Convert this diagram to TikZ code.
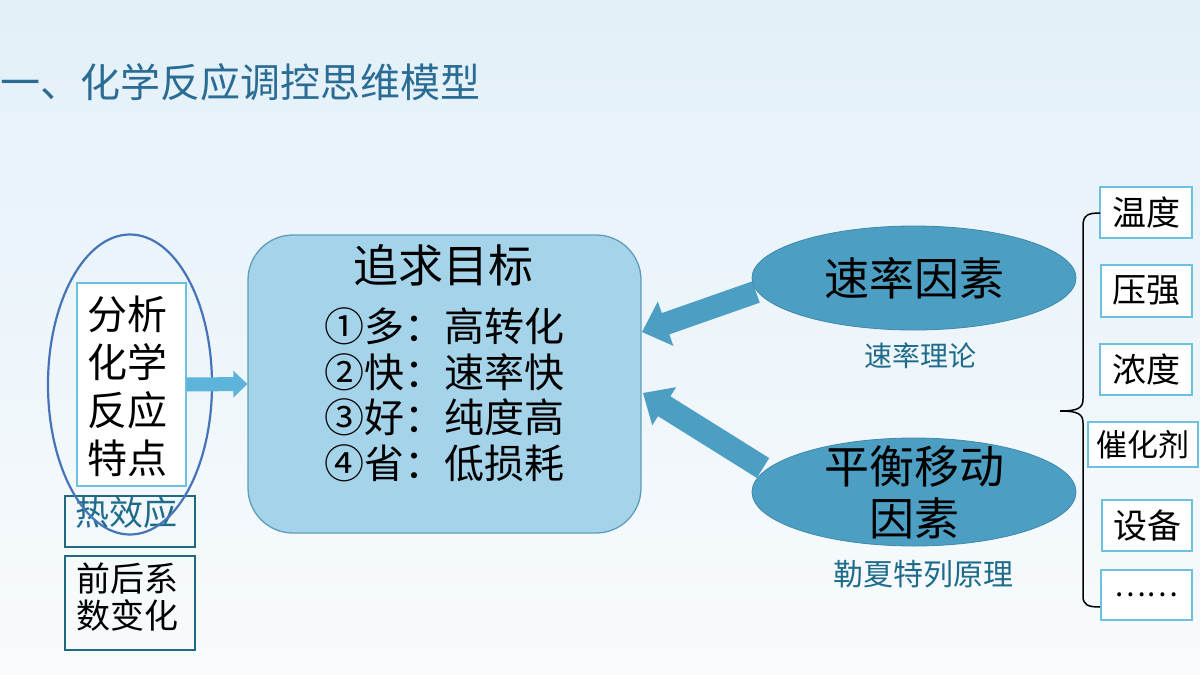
\documentclass[tikz,border=0pt]{standalone}
\usepackage{fontspec}
\setmainfont{Noto Sans CJK SC}
\usetikzlibrary{calc,shapes.geometric}
\definecolor{bgtop}{HTML}{E3F0F8}
\definecolor{bgbot}{HTML}{F8FBFD}
\definecolor{titlec}{HTML}{2A6C94}
\definecolor{tealc}{HTML}{1E6C8A}
\definecolor{goalfill}{HTML}{A5D4EA}
\definecolor{goaldraw}{HTML}{5E9DBB}
\definecolor{ellfill}{HTML}{4C9FC2}
\definecolor{elldraw}{HTML}{3F8AAA}
\definecolor{lightbox}{HTML}{6CC0E0}
\definecolor{ringc}{HTML}{4674B8}
\definecolor{darkbox}{HTML}{1F6A80}
\definecolor{smallarr}{HTML}{5DB4DA}
\newcommand{\fs}[2]{\fontsize{#1}{#2}\selectfont}
\newcommand{\blockarr}[6]{%
  \coordinate (hb) at ($(#2)!#5!(#1)$);
  \fill[#6] ($(#1)!#3!90:(#2)$) -- ($(hb)!#3!90:(#2)$) -- ($(hb)!#4!90:(#2)$)
     -- (#2) -- ($(hb)!#4!-90:(#2)$) -- ($(hb)!#3!-90:(#2)$) -- ($(#1)!#3!-90:(#2)$) -- cycle;}
\tikzset{
  sidebox/.style={draw=lightbox, line width=1.4pt, fill=white, inner sep=0pt},
  darkframe/.style={draw=darkbox, line width=1.4pt},
  ellnode/.style={ellipse, fill=ellfill, draw=elldraw, line width=0.8pt, inner sep=0pt},
  blk/.style={text=black, align=center, inner sep=0pt},
}
\begin{document}
\begin{tikzpicture}[x=1pt,y=-1pt]
\shade[top color=bgtop, bottom color=bgbot] (0,0) rectangle (1200,675);
\useasboundingbox (0,0) rectangle (1200,675);

% title
\node[anchor=west, text=titlec, inner sep=0pt, font=\fs{40}{44}] (title) at (0,82) {一、化学反应调控思维模型};

% left column
\node[draw=lightbox, line width=1.4pt, fill=white, minimum width=109pt, minimum height=203pt] (feat) at (131.5,384.5) {};
\node[blk, font=\fs{40}{48}] (feattext) at (127,386) {分析\\化学\\反应\\特点};
\node[darkframe, minimum width=130pt, minimum height=51pt] (heat) at (130,521.5) {};
\node[text=tealc, inner sep=0pt, font=\fs{34}{38}] (heattext) at (126,513) {热效应};
\node[darkframe, minimum width=130pt, minimum height=94pt] (coef) at (130,603) {};
\node[blk, font=\fs{34}{37}] (coeftext) at (127,597) {前后系\\数变化};
\draw[ringc, line width=2.2pt] (130,384.5) ellipse [x radius=82, y radius=150];

% goal box
\node[draw=goaldraw, fill=goalfill, line width=1.3pt, rounded corners=45pt, minimum width=393pt, minimum height=298pt] (goal) at (444.5,384) {};
\node[blk, font=\fs{45}{50}] (goaltitle) at (443,265) {追求目标};
\node[blk, font=\fs{40}{45.5}] (goallist) at (444,395) {①多：高转化\\②快：速率快\\③好：纯度高\\④省：低损耗};

% small arrow
\coordinate (sa1) at ($(feat.east)+(0,0)$);
\coordinate (sa2) at ($(goal.west)+(0,0)$);
\blockarr{sa1}{sa2}{7pt}{13.5pt}{14pt}{smallarr}

% big arrows
\coordinate (t1) at (756,292);
\coordinate (p1) at (642,332);
\coordinate (t2) at (763,468);
\coordinate (p2) at (643,393);
\blockarr{t1}{p1}{11.3pt}{23.5pt}{25pt}{ellfill}
\blockarr{t2}{p2}{11.7pt}{22.5pt}{25pt}{ellfill}

% ellipses
\node[ellnode, minimum width=324pt, minimum height=104pt] (rate) at (914,278) {};
\node[blk, font=\fs{45}{50}] (ratetext) at (914,278) {速率因素};
\node[text=tealc, inner sep=0pt, font=\fs{28}{30}] (ratesub) at (920,356) {速率理论};
\node[ellnode, minimum width=324pt, minimum height=108pt] (eq) at (914,492) {};
\node[blk, font=\fs{45}{52}] (eqtext) at (914,492) {平衡移动\\因素};
\node[text=tealc, inner sep=0pt, font=\fs{30}{32}] (eqsub) at (923,574) {勒夏特列原理};

% right boxes
\node[sidebox, minimum width=92pt, minimum height=51pt, font=\fs{34}{36}] (b1) at (1146,212.5) {温度};
\node[sidebox, minimum width=91pt, minimum height=52pt, font=\fs{34}{36}] (b2) at (1146.5,291) {压强};
\node[sidebox, minimum width=92pt, minimum height=51pt, font=\fs{34}{36}] (b3) at (1146,369.5) {浓度};
\node[sidebox, minimum width=110pt, minimum height=45pt, font=\fs{31}{33}] (b4) at (1143,444.5) {催化剂};
\node[sidebox, minimum width=90pt, minimum height=51pt, font=\fs{34}{36}] (b5) at (1147,525.5) {设备};
\node[sidebox, minimum width=91pt, minimum height=50pt, font=\fs{30}{32}] (b6) at (1146.5,595) {……};

% brace
\coordinate (bt) at (1100,213);
\coordinate (bm) at (1060,411);
\coordinate (bb) at (1100,607);
\draw[black, line width=1.5pt] (bt) .. controls (1088,213) and (1083,215) .. (1083,226)
  -- (1083,399) .. controls (1083,408) and (1078,411) .. (bm)
  .. controls (1078,411) and (1083,414) .. (1083,423)
  -- (1083,596) .. controls (1083,605) and (1088,607) .. (bb);
\end{tikzpicture}
\end{document}
